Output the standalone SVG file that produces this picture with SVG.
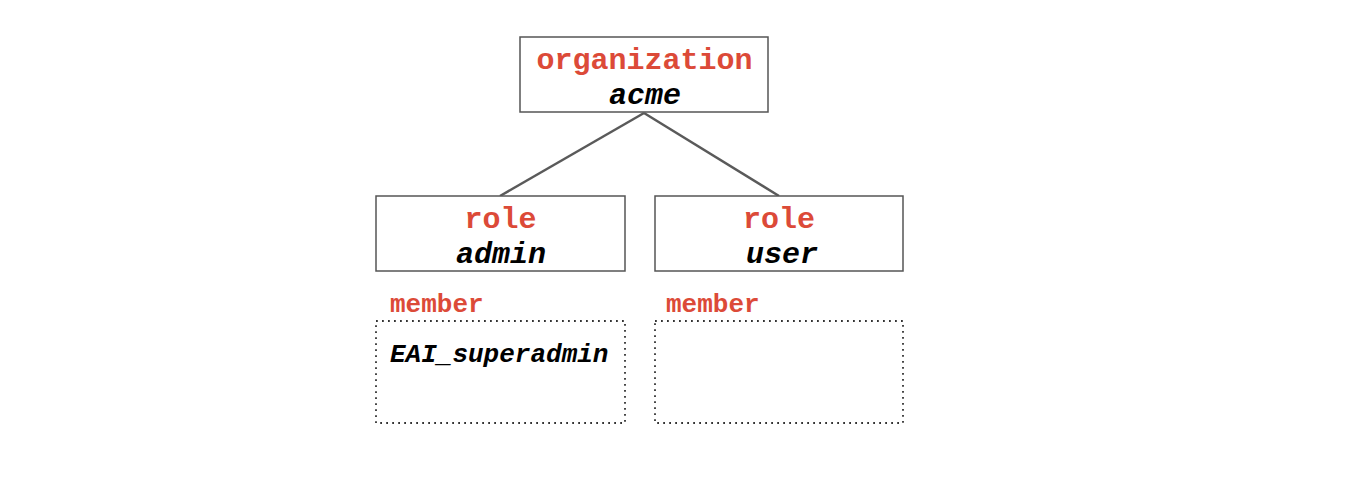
<svg xmlns="http://www.w3.org/2000/svg" width="1362" height="486" viewBox="0 0 1362 486">
<style>
.box{fill:#fff;stroke:#555;stroke-width:1.5}
.dot{fill:#fff;stroke:#333;stroke-width:1.8;stroke-dasharray:1.8 4.2}
.k{font-family:"Liberation Mono","Courier New",monospace;font-weight:bold;font-size:30px;fill:#dc4a38;text-anchor:middle}
.v{font-family:"Liberation Mono","Courier New",monospace;font-weight:bold;font-style:italic;font-size:30px;fill:#000;text-anchor:middle}
.m{font-family:"Liberation Mono","Courier New",monospace;font-weight:bold;font-size:26px;fill:#dc4a38}
.mv{font-family:"Liberation Mono","Courier New",monospace;font-weight:bold;font-style:italic;font-size:26px;fill:#000}
.c{stroke:#5a5a5a;stroke-width:2.5;fill:none}
</style>
<rect width="1362" height="486" fill="#fff"/>
<g id="connectors">
<line class="c" x1="644" y1="113" x2="500" y2="196"/>
<line class="c" x1="644" y1="113" x2="779" y2="196"/>
</g>
<g id="org">
<rect class="box" x="520" y="37" width="248" height="75"/>
<text class="k" x="644.5" y="69">organization</text>
<text class="v" x="645" y="104">acme</text>
</g>
<g id="role-admin">
<rect class="box" x="376" y="196" width="249" height="75"/>
<text class="k" x="500.5" y="228">role</text>
<text class="v" x="501" y="263">admin</text>
</g>
<g id="role-user">
<rect class="box" x="655" y="196" width="248" height="75"/>
<text class="k" x="779" y="228">role</text>
<text class="v" x="782" y="263">user</text>
</g>
<g id="member-admin">
<text class="m" x="390" y="312">member</text>
<rect class="dot" x="376" y="321" width="249" height="102"/>
<text class="mv" x="390" y="362">EAI_superadmin</text>
</g>
<g id="member-user">
<text class="m" x="666" y="312">member</text>
<rect class="dot" x="655" y="321" width="248" height="102"/>
</g>
</svg>
